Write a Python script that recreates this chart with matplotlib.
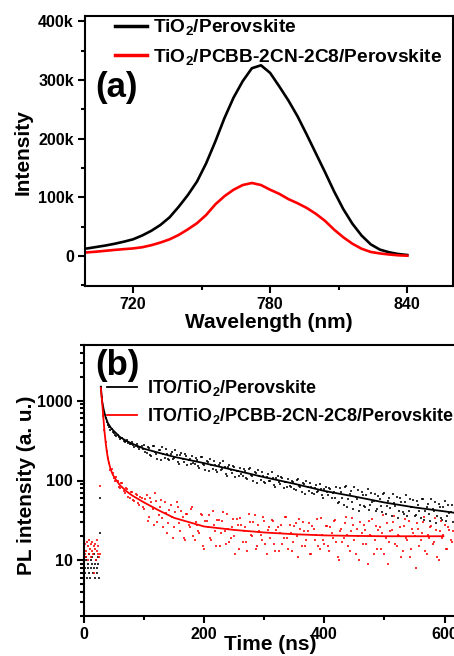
import matplotlib
matplotlib.use('Agg')
import matplotlib.pyplot as plt
from matplotlib.ticker import MultipleLocator, FuncFormatter, LogLocator, NullFormatter
import numpy as np

plt.rcParams['font.family'] = ['Liberation Sans', 'DejaVu Sans']
plt.rcParams['font.weight'] = 'bold'
plt.rcParams['mathtext.fontset'] = 'custom'
plt.rcParams['mathtext.rm'] = 'Liberation Sans:bold'
plt.rcParams['mathtext.bf'] = 'Liberation Sans:bold'
plt.rcParams['mathtext.it'] = 'Liberation Sans:bold'

RED = '#ff0000'
W, H = 454, 656

# ---- (a) steady-state PL spectra (x1000 counts) ----
wavelength = np.arange(700, 841, 4)
pl_tio2 = [13, 15.5, 18, 21, 24.5, 28.5, 35, 43, 53, 66, 84, 104, 127, 158, 195, 235,
           270, 298, 320, 325, 312, 289, 265, 238, 207, 175, 143, 110, 80, 55, 35, 20,
           11, 6.5, 3.5, 1.8]
pl_pcbb = [6.3, 7.5, 9, 10.5, 11.8, 13, 15, 18.5, 23, 28.5, 36, 45.5, 56, 70, 88, 102,
           113, 121, 124.5, 121, 113, 106, 97, 90, 82, 72, 60, 45, 32, 21, 12.5, 7,
           4.5, 2.7, 1.3, 0.6]

# ---- (b) TRPL decay (counts) ----
# baseline before the pulse, one point per ns
pre_black = [9, 8, 7, 10, 11, 6, 8, 9, 12, 7, 6, 10, 8, 9, 11, 7, 8, 12, 6, 9, 10, 7, 8, 11,
             9, 6, 22, 60]
pre_red = [14, 12, 16, 11, 13, 17, 15, 10, 18, 12, 14, 16, 11, 13, 17, 12, 15, 7, 14, 16, 10,
           13, 18, 12, 15, 11, 12, 85]
# decay, channels at 28, 32, 36 ... ns
decay_black = [1480, 760, 600, 500, 430, 410, 370, 375, 330, 345, 300, 320, 285, 300, 262, 285,
               250, 270,
               278, 220, 252, 201, 274, 218, 243, 181, 218, 246, 186, 214, 188, 241, 170, 207,
               185, 212, 155, 184, 202, 159, 183, 145, 198, 157, 175, 131, 157, 178, 134, 155,
               135, 174, 122, 148, 134, 153, 112, 132, 144, 114, 131, 105, 143, 113, 126, 94,
               113, 128, 97, 111, 98, 126, 89, 108, 97, 111, 81, 96, 105, 83, 95, 76, 103, 82,
               92, 68, 82, 93, 70, 80, 71, 91, 65, 78, 71, 81, 60, 71,
               84, 54, 72, 49, 85, 59, 73, 44, 63, 76, 50, 65, 46, 78, 50, 54, 67, 44, 58, 40,
               69, 48, 60, 36, 52, 63, 42, 54, 38, 65, 42, 46, 57, 37, 50, 34, 59, 41, 51, 31,
               44, 54, 36, 46, 32, 55, 36, 39, 49]
decay_red = [1450, 640, 300, 190, 135, 125, 98, 100, 80, 92, 70, 78, 60, 72, 55, 66, 50, 60, 44,
             66, 35, 53, 28, 55, 37, 57, 26, 39, 29, 49, 19, 40, 47, 23, 35, 18, 38, 26, 46,
             18, 28, 22, 37, 14, 31, 37, 18, 28, 15, 32, 22, 40, 16, 25, 19, 33, 12, 28, 34,
             17, 26, 13, 30, 20, 37, 15, 23, 18, 31, 12, 26, 32, 16, 24, 13, 28, 19, 35, 14,
             22, 17, 29, 11, 25, 30, 15, 23, 12, 27, 18, 33, 14, 21, 16,
             27, 13, 22, 31, 17, 10, 25, 19, 35, 15, 23, 28, 12, 20, 30, 16, 24, 9, 21, 33,
             18, 14, 26, 22, 12, 29, 17, 24, 36, 15, 20, 11, 27, 19, 31, 14, 22, 8, 25, 18,
             30, 13, 21, 26, 16, 34, 11, 23, 19, 28, 14, 24, 17]
# decay, channels at 30, 34, 38 ... ns
decay_black_b = [1100, 680, 540, 470, 445, 395, 360, 350, 340, 315, 310, 295, 290, 275, 272,
                 260, 262, 248,
                 228, 266, 207, 271, 225, 188, 238, 260, 194, 216, 180, 231, 192, 207, 159, 220,
                 172, 203, 181, 159, 166, 193, 150, 196, 163, 136, 172, 188, 140, 157, 129, 166,
                 138, 149, 114, 158, 124, 146, 130, 114, 119, 138, 108, 141, 117, 98, 124, 135,
                 101, 113, 94, 120, 100, 108, 83, 115, 90, 106, 95, 83, 86, 100, 78, 102, 85,
                 71, 90, 98, 73, 82, 68, 87, 73, 78, 60, 84, 66, 78, 70, 61,
                 52, 80, 60, 84, 47, 67, 54, 82, 58, 41, 71, 48, 65, 43, 70, 56, 42, 64, 48, 68,
                 38, 55, 45, 67, 48, 34, 60, 40, 54, 36, 59, 47, 36, 55, 41, 58, 32, 47, 38, 58,
                 41, 29, 51, 34, 46, 31, 50, 40, 30]
decay_red_b = [1000, 430, 235, 165, 140, 108, 112, 84, 92, 73, 80, 62, 71, 57, 68, 52, 62, 47,
               58,
               31, 60, 44, 69, 30, 46, 34, 54, 22, 43, 35, 26, 54, 29, 41, 19, 38, 28, 44, 20,
               30, 23, 38, 15, 31, 26, 19, 42, 23, 32, 15, 31, 23, 38, 17, 26, 20, 33, 14, 28,
               23, 17, 38, 21, 30, 14, 28, 21, 35, 16, 24, 19, 31, 13, 26, 22, 16, 35, 19, 28,
               13, 27, 20, 33, 15, 23, 18, 29, 12, 25, 21, 15, 34, 18, 27,
               15, 26, 19, 32, 11, 23, 17, 29, 21, 13, 34, 18, 25, 10, 22, 28, 16, 31, 20, 12,
               27, 24, 14, 37, 19, 9, 23, 30, 16, 21, 26, 13, 33, 18, 11, 25, 20, 29, 15, 22,
               35, 12, 19, 27, 17, 24, 10, 31, 21, 14, 26, 18, 23]

fit_t_black = [28, 30, 33, 36, 40, 45, 50, 60, 70, 80, 100, 125, 150, 200, 250, 300, 350, 400,
               450, 500, 550, 600, 615]
fit_black = [1500, 1000, 760, 620, 520, 455, 415, 350, 315, 290, 250, 222, 198, 165, 135, 110,
             91, 74, 63, 53, 46, 41, 39.5]
fit_t_red = [28, 30, 32, 34, 36, 38, 40, 44, 48, 52, 60, 70, 80, 100, 125, 150, 175, 200, 250,
             300, 350, 400, 450, 500, 598]
fit_red = [1450, 1000, 640, 420, 300, 230, 185, 140, 118, 105, 87, 74, 65, 53, 42, 34, 30,
           26.5, 24, 22.3, 21.2, 20.5, 20.2, 20, 20]

fig = plt.figure(figsize=(W / 100, H / 100), dpi=100)


def frac(x, y):
    return x / W, 1 - y / H


def style(ax):
    for sp in ax.spines.values():
        sp.set_linewidth(1.5)
    ax.tick_params(which='both', direction='out', width=1.5, top=False, right=False,
                   labelsize=11.5, pad=3)
    ax.tick_params(which='major', length=5)
    ax.tick_params(which='minor', length=3)


# ---------------- panel (a) ----------------
ax1 = fig.add_axes([85 / W, 1 - 286 / H, (453 - 85) / W, 270 / H])
ax1.plot(wavelength, np.array(pl_tio2) * 1000, color='black', lw=1.9,
         label=r'TiO$_\mathbf{2}$/Perovskite')
ax1.plot(wavelength, np.array(pl_pcbb) * 1000, color=RED, lw=1.9,
         label=r'TiO$_\mathbf{2}$/PCBB-2CN-2C8/Perovskite')
ax1.set_xlim(699, 860)
ax1.set_ylim(-51000, 409000)
ax1.xaxis.set_major_locator(MultipleLocator(60))
ax1.xaxis.set_minor_locator(MultipleLocator(30))
ax1.yaxis.set_major_locator(MultipleLocator(100000))
ax1.yaxis.set_minor_locator(MultipleLocator(50000))
ax1.yaxis.set_major_formatter(FuncFormatter(lambda v, p: '0' if v == 0 else f'{int(v / 1000)}k'))
style(ax1)
leg1 = ax1.legend(loc='upper left', bbox_to_anchor=((115 - 85) / 368, 0.995), frameon=False,
                  borderaxespad=0, borderpad=0, handlelength=1.65, handletextpad=0.32,
                  labelspacing=0.5, prop={'size': 13.8, 'weight': 'bold'})
for ln in leg1.get_lines():
    ln.set_linewidth(2.5)
ax1.text((95 - 85) / 368, (286 - 87) / 270, '(a)', transform=ax1.transAxes, fontsize=25,
         fontweight='bold', ha='left', va='center')
fig.text(*frac(23, 152), 'Intensity', rotation=90, ha='center', va='center', fontsize=15,
         fontweight='bold')
fig.text(*frac(269, 322), 'Wavelength (nm)', ha='center', va='center', fontsize=15,
         fontweight='bold')

# ---------------- panel (b) ----------------
ax2 = fig.add_axes([84 / W, 1 - 616 / H, 372.6 / W, 271 / H])
t_pre = np.arange(len(pre_black))
t_a = np.arange(28, 28 + 4 * len(decay_black), 4)
t_ar = np.arange(28, 28 + 4 * len(decay_red), 4)
t_b = np.arange(30, 30 + 4 * len(decay_black_b), 4)
t_br = np.arange(30, 30 + 4 * len(decay_red_b), 4)
dot = dict(ls='none', marker='s', ms=1.7, mew=0, alpha=0.8)
ax2.plot(t_pre, pre_black, color='black', **dot)
ax2.plot(t_pre, pre_red, color=RED, **dot)
ax2.plot(t_a, decay_black, color='black', **dot)
ax2.plot(t_b, decay_black_b, color='black', **dot)
ax2.plot(t_ar, decay_red, color=RED, **dot)
ax2.plot(t_br, decay_red_b, color=RED, **dot)
ax2.plot(fit_t_black, fit_black, '-', color='black', lw=1.3,
         label=r'ITO/TiO$_\mathbf{2}$/Perovskite')
ax2.plot(fit_t_red, fit_red, '-', color=RED, lw=1.3,
         label=r'ITO/TiO$_\mathbf{2}$/PCBB-2CN-2C8/Perovskite')
ax2.set_yscale('log')
ax2.set_xlim(0, 620)
ax2.set_ylim(2, 5000)
ax2.xaxis.set_major_locator(MultipleLocator(200))
ax2.xaxis.set_minor_locator(MultipleLocator(100))
ax2.yaxis.set_major_locator(LogLocator(base=10, numticks=10))
ax2.yaxis.set_minor_locator(LogLocator(base=10, subs=np.arange(2, 10), numticks=20))
ax2.yaxis.set_minor_formatter(NullFormatter())
ax2.yaxis.set_major_formatter(FuncFormatter(lambda v, p: f'{int(round(v))}'))
style(ax2)
leg2 = ax2.legend(loc='upper left', bbox_to_anchor=((107 - 84) / 372.6, (616 - 378) / 271),
                  frameon=False, borderaxespad=0, borderpad=0, handlelength=1.65,
                  handletextpad=0.55, labelspacing=0.45, prop={'size': 13, 'weight': 'bold'})
ax2.text((95 - 84) / 372.6, (616 - 366) / 271, '(b)', transform=ax2.transAxes, fontsize=25,
         fontweight='bold', ha='left', va='center')
fig.text(*frac(27, 485), 'PL intensity (a. u.)', rotation=90, ha='center', va='center',
         fontsize=15, fontweight='bold')
fig.text(*frac(270, 645), 'Time (ns)', ha='center', va='center', fontsize=15,
         fontweight='bold')

fig.savefig('out.png', dpi=100, facecolor='white')
